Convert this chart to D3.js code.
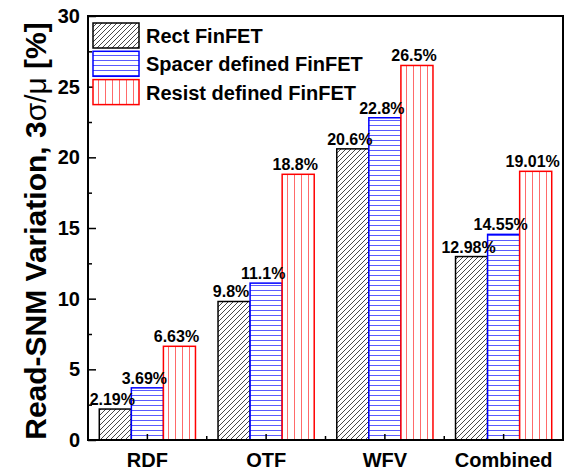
<!DOCTYPE html>
<html>
<head>
<meta charset="utf-8">
<script src="https://cdn.jsdelivr.net/npm/d3@7"></script>
<style>
  html, body { margin: 0; padding: 0; background: #fff; }
  svg { display: block; }
  text { font-family: "Liberation Sans", Arial, sans-serif; font-weight: bold; fill: #000; }
</style>
</head>
<body>
<svg id="chart" width="571" height="472"></svg>
<script>
// ---- data ----
const categories = ["RDF", "OTF", "WFV", "Combined"];
const seriesNames = ["Rect FinFET", "Spacer defined FinFET", "Resist defined FinFET"];
const rectValues   = [2.19, 9.8, 20.6, 12.98];
const spacerValues = [3.69, 11.1, 22.8, 14.55];
const resistValues = [6.63, 18.8, 26.5, 19.01];
const rectLabels   = ["2.19%", "9.8%", "20.6%", "12.98%"];
const spacerLabels = ["3.69%", "11.1%", "22.8%", "14.55%"];
const resistLabels = ["6.63%", "18.8%", "26.5%", "19.01%"];
const yTicks = [0, 5, 10, 15, 20, 25, 30];
const yMinorTicks = [2.5, 7.5, 12.5, 17.5, 22.5, 27.5];

const seriesValues = [rectValues, spacerValues, resistValues];
const seriesLabels = [rectLabels, spacerLabels, resistLabels];

// ---- layout ----
const svg = d3.select("#chart");
const L = 88, R = 563, T = 16, B = 440;

const x0 = d3.scaleBand().domain(categories).range([L, R])
  .paddingInner(0.19).paddingOuter(0.095);
const x1 = d3.scaleBand().domain(seriesNames).range([0, x0.bandwidth()]);
const y = d3.scaleLinear().domain([0, 30]).range([B, T]);

// ---- patterns ----
const defs = svg.append("defs");
const pHatch = defs.append("pattern").attr("id", "hatch")
  .attr("patternUnits", "userSpaceOnUse").attr("width", 5).attr("height", 5);
pHatch.append("rect").attr("width", 5).attr("height", 5).attr("fill", "#fff");
pHatch.append("path").attr("d", "M-1,1 l2,-2 M0,5 l5,-5 M4,6 l2,-2")
  .attr("stroke", "#333").attr("stroke-width", 0.9);

const pHoriz = defs.append("pattern").attr("id", "horiz")
  .attr("patternUnits", "userSpaceOnUse").attr("width", 10).attr("height", 5);
pHoriz.append("rect").attr("width", 10).attr("height", 5).attr("fill", "#fff");
pHoriz.append("path").attr("d", "M0,0.5 H10").attr("stroke", "#5a5aff").attr("stroke-width", 1);

const pVert = defs.append("pattern").attr("id", "vert")
  .attr("patternUnits", "userSpaceOnUse").attr("width", 7).attr("height", 10);
pVert.append("rect").attr("width", 7).attr("height", 10).attr("fill", "#fff");
pVert.append("path").attr("d", "M0.5,0 V10").attr("stroke", "#ff6a6a").attr("stroke-width", 1);

const fills = ["url(#hatch)", "url(#horiz)", "url(#vert)"];
const strokes = ["#000", "#0000ff", "#ff0000"];

// ---- bars ----
const rows = [];
categories.forEach((c, ci) => {
  seriesNames.forEach((s, si) => {
    rows.push({ c, s, si, v: seriesValues[si][ci], lab: seriesLabels[si][ci] });
  });
});

svg.append("g").selectAll("rect").data(rows).enter().append("rect")
  .attr("x", d => x0(d.c) + x1(d.s))
  .attr("y", d => y(d.v))
  .attr("width", x1.bandwidth())
  .attr("height", d => y(0) - y(d.v))
  .attr("fill", d => fills[d.si])
  .attr("stroke", d => strokes[d.si])
  .attr("stroke-width", 1.5);

svg.append("g").selectAll("text").data(rows).enter().append("text")
  .attr("x", d => x0(d.c) + x1(d.s) + x1.bandwidth() / 2 - 3)
  .attr("y", d => y(d.v) - 4)
  .attr("text-anchor", "middle")
  .attr("font-size", 16)
  .text(d => d.lab);

// ---- axes ----
const yAxis = d3.axisLeft(y).tickValues(yTicks).tickSize(-8).tickPadding(8)
  .tickFormat(d3.format("d"));
const gy = svg.append("g").attr("transform", `translate(${L},0)`).call(yAxis);
gy.select(".domain").remove();
gy.selectAll(".tick line").attr("stroke", "#000").attr("stroke-width", 1.5);
gy.selectAll(".tick text").attr("font-size", 20).attr("font-family", "Liberation Sans, Arial, sans-serif")
  .attr("font-weight", "bold").attr("fill", "#000");

const gym = svg.append("g").attr("transform", `translate(${L},0)`)
  .call(d3.axisLeft(y).tickValues(yMinorTicks).tickSize(-4).tickFormat(""));
gym.select(".domain").remove();
gym.selectAll(".tick line").attr("stroke", "#000").attr("stroke-width", 1.5);

const xAxis = d3.axisBottom(x0).tickSize(-6).tickPadding(13);
const gx = svg.append("g").attr("transform", `translate(0,${B})`).call(xAxis);
gx.select(".domain").remove();
gx.selectAll(".tick line").attr("stroke", "#000").attr("stroke-width", 1.5);
gx.selectAll(".tick text").attr("font-size", 20).attr("font-family", "Liberation Sans, Arial, sans-serif")
  .attr("font-weight", "bold").attr("fill", "#000");

// minor x ticks at band boundaries
const bounds = categories.slice(1).map(c => x0(c) - x0.step() * x0.paddingInner() / 2);
svg.append("g").selectAll("line").data(bounds).enter().append("line")
  .attr("x1", d => d).attr("x2", d => d).attr("y1", B).attr("y2", B - 4)
  .attr("stroke", "#000").attr("stroke-width", 1.5);

// frame
svg.append("rect").attr("x", L).attr("y", T).attr("width", R - L).attr("height", B - T)
  .attr("fill", "none").attr("stroke", "#000").attr("stroke-width", 2);

// y title
const yt = svg.append("text")
  .attr("transform", `translate(46,231) rotate(-90)`)
  .attr("text-anchor", "middle")
  .attr("font-size", 30);
yt.append("tspan").text("Read-SNM Variation, 3");
yt.append("tspan").attr("font-weight", "normal").text("σ/μ");
yt.append("tspan").text(" [%]");

// ---- legend ----
const lg = svg.append("g");
seriesNames.forEach((s, i) => {
  lg.append("rect").attr("x", 93).attr("y", 23 + i * 28.3).attr("width", 46).attr("height", 25)
    .attr("fill", fills[i]).attr("stroke", strokes[i]).attr("stroke-width", 1.5);
  lg.append("text").attr("x", 146).attr("y", 43 + i * 28.3).attr("font-size", 20).text(s);
});
</script>
</body>
</html>
